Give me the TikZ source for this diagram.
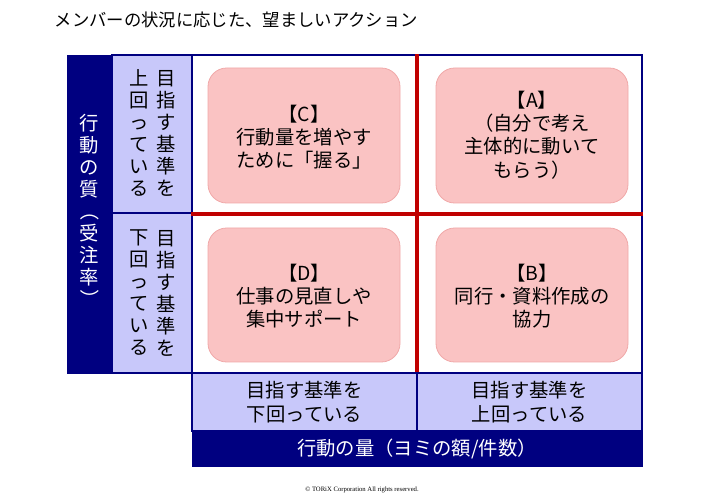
\documentclass[tikz,border=0pt]{standalone}
\usepackage{fontspec}
\setmainfont{Noto Sans CJK JP}
\begin{document}
\begin{tikzpicture}[x=0.75pt,y=-0.75pt,
  navy/.style={fill=navyc,draw=navyc},
  lav/.style={fill=lavc,draw=navyc,line width=1pt},
  pinkbox/.style={fill=pinkc,draw=pinkd,rounded corners=14pt,line width=0.6pt},
  boxtxt/.style={font=\fontsize{14.5}{17.5}\selectfont,align=center},
  vtxt/.style={font=\fontsize{14.5}{16.5}\selectfont,align=center,inner sep=0pt}]
\definecolor{navyc}{HTML}{000080}
\definecolor{lavc}{HTML}{C8C8FA}
\definecolor{pinkc}{HTML}{FAC3C3}
\definecolor{pinkd}{HTML}{F0A8A8}
\definecolor{redc}{HTML}{C00000}
\useasboundingbox (0,0) rectangle (720,498);
\node[anchor=west,font=\fontsize{13}{15}\selectfont] (title) at (50,20) {メンバーの状況に応じた、望ましいアクション};
% left bar
\node[navy,minimum width=45*0.75pt,minimum height=318*0.75pt,inner sep=0pt] (lbar) at (89.5,214) {};
\node[vtxt,text=white] (lbt) at (89.5,212) {行\\動\\の\\質\\\rotatebox[origin=c]{-90}{（}\\受\\注\\率\\\rotatebox[origin=c]{-90}{）}};
% row labels
\node[lav,minimum width=80*0.75pt,minimum height=158*0.75pt,inner sep=0pt] (rl1) at (152,134) {};
\node[lav,minimum width=80*0.75pt,minimum height=160*0.75pt,inner sep=0pt] (rl2) at (152,293) {};
\node[vtxt] (rl1a) at (166,133) {目\\指\\す\\基\\準\\を};
\node[vtxt] (rl1b) at (139,133) {上\\回\\っ\\て\\い\\る};
\node[vtxt] (rl2a) at (166,293) {目\\指\\す\\基\\準\\を};
\node[vtxt] (rl2b) at (139,293) {下\\回\\っ\\て\\い\\る};
% grid
\node[draw=navyc,line width=1pt,minimum width=450*0.75pt,minimum height=318*0.75pt,inner sep=0pt] (grid) at (417,214) {};
\draw[redc,line width=3pt] (grid.north) -- (grid.south);
\draw[redc,line width=3pt] (grid.west) -- (grid.east);
% pink boxes
\node[pinkbox,minimum width=192*0.75pt,minimum height=135*0.75pt] (c) at (304,135.5) {};
\node[boxtxt] (ct) at (304,137) {【C】\\行動量を増やす\\ために「握る」};
\node[pinkbox,minimum width=192*0.75pt,minimum height=135*0.75pt] (a) at (532,135.5) {};
\node[boxtxt] (at) at (532,135) {【A】\\（自分で考え\\主体的に動いて\\もらう）};
\node[pinkbox,minimum width=192*0.75pt,minimum height=134*0.75pt] (d) at (304,295) {};
\node[boxtxt] (dt) at (304,296) {【D】\\仕事の見直しや\\集中サポート};
\node[pinkbox,minimum width=192*0.75pt,minimum height=134*0.75pt] (b) at (532,295) {};
\node[boxtxt] (bt) at (532,296) {【B】\\同行・資料作成の\\協力};
% column labels
\node[lav,minimum width=225*0.75pt,minimum height=58*0.75pt,inner sep=0pt] (cl1) at (304.5,402) {};
\node[boxtxt] at (cl1) {目指す基準を\\下回っている};
\node[lav,minimum width=225*0.75pt,minimum height=58*0.75pt,inner sep=0pt] (cl2) at (529.5,402) {};
\node[boxtxt] at (cl2) {目指す基準を\\上回っている};
\node[navy,minimum width=450*0.75pt,minimum height=35*0.75pt,inner sep=0pt] (bbar) at (417,448.5) {};
\node[boxtxt,text=white] at (bbar) {行動の量（ヨミの額/件数）};
\node[font=\fontsize{5}{6}\selectfont\rmfamily] (copy) at (362,490) {\fontspec{Liberation Serif}© TORiX Corporation All rights reserved.};
\end{tikzpicture}
\end{document}
